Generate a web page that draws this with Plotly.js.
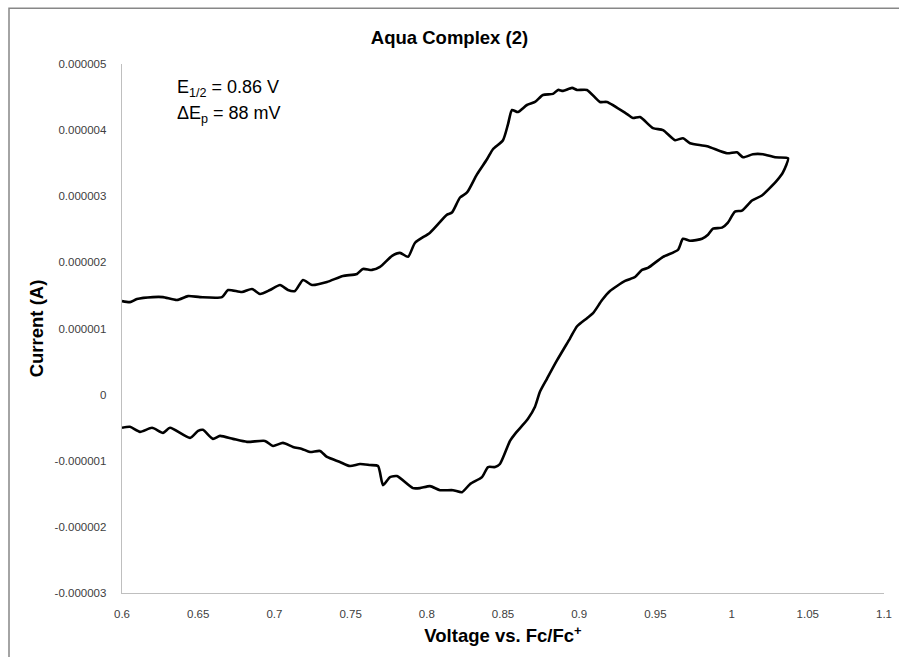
<!DOCTYPE html>
<html>
<head>
<meta charset="utf-8">
<script src="https://cdn.plot.ly/plotly-3.0.1.min.js"></script>
<style>html,body{margin:0;padding:0;background:#fff;}#chart{width:899px;height:657px;}</style>
</head>
<body>
<div id="chart"></div>
<script>
// Forward (anodic) scan, left to switching potential
var voltageForward = [0.6000,0.6052,0.6098,0.6203,0.6269,0.6361,0.6433,0.6512,0.6656,0.6696,0.6787,0.6853,0.6906,0.6971,0.7037,0.7089,0.7135,0.7188,0.7247,0.7345,0.7450,0.7542,0.7581,0.7640,0.7693,0.7772,0.7824,0.7877,0.7923,0.8021,0.8133,0.8165,0.8218,0.8264,0.8329,0.8395,0.8434,0.8500,0.8533,0.8559,0.8598,0.8657,0.8710,0.8762,0.8828,0.8861,0.8894,0.8953,0.8986,0.9051,0.9136,0.9182,0.9314,0.9353,0.9399,0.9484,0.9550,0.9629,0.9681,0.9727,0.9839,0.9970,1.0035,1.0075,1.0140,1.0206,1.0285,1.0370];
var currentForward = [1.414e-6,1.399e-6,1.445e-6,1.475e-6,1.475e-6,1.430e-6,1.490e-6,1.475e-6,1.475e-6,1.582e-6,1.551e-6,1.597e-6,1.521e-6,1.582e-6,1.658e-6,1.582e-6,1.567e-6,1.734e-6,1.658e-6,1.703e-6,1.795e-6,1.825e-6,1.901e-6,1.886e-6,1.932e-6,2.099e-6,2.144e-6,2.084e-6,2.297e-6,2.449e-6,2.722e-6,2.753e-6,2.981e-6,3.057e-6,3.331e-6,3.559e-6,3.711e-6,3.848e-6,4.091e-6,4.304e-6,4.274e-6,4.380e-6,4.426e-6,4.532e-6,4.548e-6,4.608e-6,4.593e-6,4.639e-6,4.608e-6,4.608e-6,4.426e-6,4.426e-6,4.243e-6,4.183e-6,4.198e-6,4.030e-6,4.000e-6,3.848e-6,3.878e-6,3.802e-6,3.757e-6,3.650e-6,3.665e-6,3.589e-6,3.635e-6,3.635e-6,3.589e-6,3.574e-6];
// Reverse (cathodic) scan, switching potential back to start
var voltageReverse = [1.0337,1.0298,1.0199,1.0134,1.0068,1.0022,0.9976,0.9937,0.9878,0.9845,0.9806,0.9727,0.9681,0.9648,0.9550,0.9451,0.9412,0.9366,0.9301,0.9202,0.9150,0.9091,0.9051,0.8986,0.8940,0.8854,0.8789,0.8743,0.8710,0.8664,0.8579,0.8546,0.8480,0.8448,0.8402,0.8362,0.8283,0.8231,0.8172,0.8087,0.8021,0.7955,0.7909,0.7804,0.7759,0.7713,0.7680,0.7627,0.7562,0.7496,0.7430,0.7345,0.7299,0.7234,0.7181,0.7122,0.7056,0.6991,0.6938,0.6820,0.6728,0.6643,0.6597,0.6531,0.6499,0.6446,0.6315,0.6269,0.6197,0.6118,0.6052,0.6000];
var currentReverse = [3.361e-6,3.240e-6,3.011e-6,2.935e-6,2.783e-6,2.768e-6,2.601e-6,2.525e-6,2.510e-6,2.418e-6,2.357e-6,2.327e-6,2.357e-6,2.190e-6,2.084e-6,1.916e-6,1.886e-6,1.779e-6,1.719e-6,1.567e-6,1.430e-6,1.232e-6,1.156e-6,1.034e-6,0.852e-6,0.517e-6,0.243e-6,0.046e-6,-0.183e-6,-0.365e-6,-0.593e-6,-0.700e-6,-1.049e-6,-1.095e-6,-1.095e-6,-1.247e-6,-1.354e-6,-1.475e-6,-1.445e-6,-1.445e-6,-1.384e-6,-1.414e-6,-1.414e-6,-1.232e-6,-1.247e-6,-1.369e-6,-1.080e-6,-1.065e-6,-1.049e-6,-1.080e-6,-1.019e-6,-0.943e-6,-0.852e-6,-0.867e-6,-0.821e-6,-0.791e-6,-0.730e-6,-0.776e-6,-0.700e-6,-0.715e-6,-0.669e-6,-0.624e-6,-0.669e-6,-0.532e-6,-0.548e-6,-0.654e-6,-0.502e-6,-0.578e-6,-0.502e-6,-0.563e-6,-0.487e-6,-0.502e-6];

var xTickVals = [0.6,0.65,0.7,0.75,0.8,0.85,0.9,0.95,1,1.05,1.1];
var xTickText = ["0.6","0.65","0.7","0.75","0.8","0.85","0.9","0.95","1","1.05","1.1"];
var yTickVals = [-3e-6,-2e-6,-1e-6,0,1e-6,2e-6,3e-6,4e-6,5e-6];
var yTickText = ["-0.000003","-0.000002","-0.000001","0","0.000001","0.000002","0.000003","0.000004","0.000005"];

var chartTitle = "Aqua Complex (2)";
var xTitle = "Voltage vs. Fc/Fc<sup>+</sup>";
var yTitle = "Current (A)";
var noteLines = ["E<sub>1/2</sub> = 0.86 V", "ΔE<sub>p</sub> = 88 mV"];

var FONT = "Liberation Sans, Arial, sans-serif";

var trace = {
  x: voltageForward.concat(voltageReverse),
  y: currentForward.concat(currentReverse),
  type: "scatter",
  mode: "lines",
  line: {color: "#000000", width: 2.6, shape: "spline", smoothing: 0.6},
  hoverinfo: "skip",
  showlegend: false
};

var layout = {
  width: 899, height: 657,
  margin: {l: 122, r: 15, t: 64, b: 64},
  paper_bgcolor: "#ffffff",
  plot_bgcolor: "#ffffff",
  font: {family: FONT, color: "#000"},
  showlegend: false,
  title: {text: "<b>" + chartTitle + "</b>", font: {family: FONT, size: 18.5, color: "#000"},
          x: 0.5, xref: "container", xanchor: "center", y: 1 - 38/657, yref: "container", yanchor: "middle"},
  xaxis: {
    range: [0.6, 1.1], tickmode: "array", tickvals: xTickVals, ticktext: xTickText,
    showgrid: false, zeroline: false, showline: true, linecolor: "#bfbfbf", linewidth: 1.3,
    ticks: "", ticklabelstandoff: 10,
    tickfont: {family: FONT, size: 11.5, color: "#404040"},
    title: {text: "<b>" + xTitle + "</b>", font: {family: FONT, size: 18.5, color: "#000"}, standoff: 10}
  },
  yaxis: {
    range: [-3e-6, 5e-6], tickmode: "array", tickvals: yTickVals, ticktext: yTickText,
    showgrid: false, zeroline: false, showline: true, linecolor: "#bfbfbf", linewidth: 1.3,
    ticks: "", ticklabelstandoff: 12,
    tickfont: {family: FONT, size: 11.5, color: "#404040"},
    title: {text: "<b>" + yTitle + "</b>", font: {family: FONT, size: 18.5, color: "#000"}, standoff: 6}
  },
  annotations: [
    {xref: "paper", yref: "paper", x: (175-122)/762, y: (593-91)/526, xanchor: "left", yanchor: "middle",
     text: noteLines[0], showarrow: false, font: {family: FONT, size: 18, color: "#000"}},
    {xref: "paper", yref: "paper", x: (175-122)/762, y: (593-117)/526, xanchor: "left", yanchor: "middle",
     text: noteLines[1], showarrow: false, font: {family: FONT, size: 18, color: "#000"}}
  ],
  shapes: [
    {type: "rect", xref: "paper", yref: "paper", x0: (9-122)/762, x1: 1.2, y0: -0.3, y1: (593-11.5)/526,
     line: {color: "#878787", width: 1.5}, fillcolor: "rgba(0,0,0,0)", layer: "below"}
  ]
};

Plotly.newPlot("chart", [trace], layout, {staticPlot: true, displayModeBar: false});
</script>
</body>
</html>
